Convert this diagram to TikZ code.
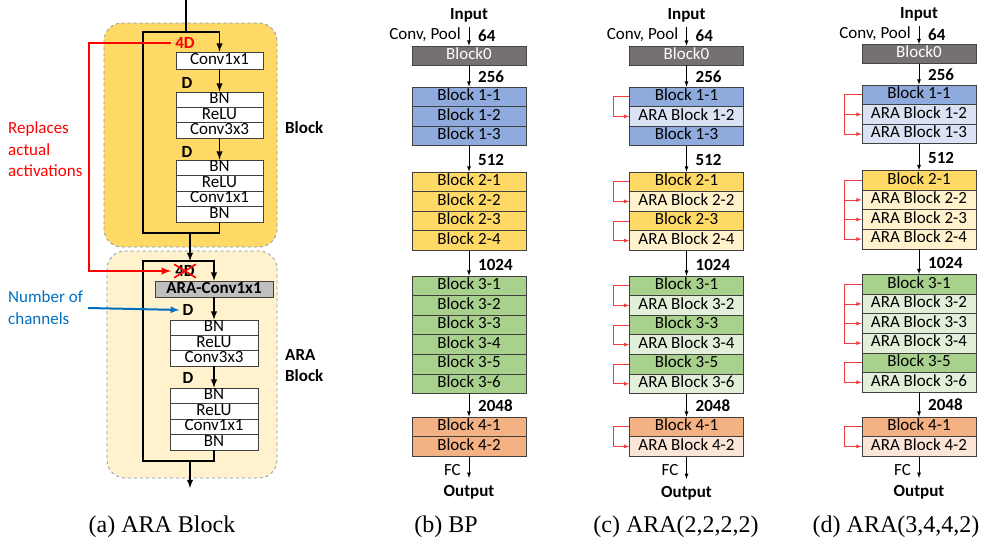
\documentclass[tikz,border=0pt]{standalone}
\usepackage{fontspec}
\setmainfont{Carlito}
\newfontfamily\capfont{Liberation Serif}
\definecolor{gray0}{HTML}{767171}
\definecolor{blu}{HTML}{8FAADC}
\definecolor{lblu}{HTML}{DAE3F3}
\definecolor{yel}{HTML}{FFD966}
\definecolor{lyel}{HTML}{FFF2CC}
\definecolor{grn}{HTML}{A9D18E}
\definecolor{lgrn}{HTML}{E2F0D9}
\definecolor{org}{HTML}{F4B183}
\definecolor{lorg}{HTML}{FBE5D6}
\definecolor{boxline}{HTML}{404040}
\definecolor{dashline}{HTML}{8497B0}
\definecolor{arared}{HTML}{F03C3C}
\definecolor{chblue}{HTML}{0070C0}

\begin{document}
\begin{tikzpicture}[x=1pt,y=-1pt,>=latex,
	every node/.style={font=\fontsize{17}{21.5}\selectfont},
	row/.style={draw=boxline,line width=0.7pt,minimum width=114pt,minimum height=19.6pt,inner sep=0pt,text height=11pt,text depth=3.5pt},
	lay/.style={draw=boxline,fill=white,line width=0.7pt,minimum width=87pt,minimum height=15.5pt,inner sep=0pt,text height=11pt,text depth=3pt},
	num/.style={font=\fontsize{17}{21.5}\selectfont\bfseries,inner sep=1pt,anchor=west},
	main/.style={line width=1.8pt},
	flow/.style={->,line width=0.8pt},
	araline/.style={->,draw=arared,line width=0.8pt},
	bg/.style={draw=dashline,dashed,line width=0.8pt,rounded corners=18pt},
	captext/.style={font={\capfont\fontsize{24}{28}\selectfont}}]
\useasboundingbox (0,0) rectangle (990,538);

\draw[bg,fill=yel] (104,23) rectangle (277,247);
\draw[bg,fill=lyel] (107,251) rectangle (277,478);
\coordinate (ain) at (186,0);
\coordinate (s1) at (186,32);
\coordinate (s1l) at (143,32);
\coordinate (s1r) at (219.5,32);
\coordinate (j1) at (190,233);
\coordinate (j1l) at (143,233);
\coordinate (j1r) at (219.5,233);
\coordinate (s2) at (190,261);
\coordinate (s2l) at (143,261);
\coordinate (s2r) at (214,261);
\coordinate (j2) at (190,461);
\coordinate (j2l) at (143,461);
\coordinate (j2r) at (214,461);
\coordinate (aout) at (190,488);
\node[lay,minimum height=17pt] (a1) at (219.5,60.5) {Conv1x1};
\node[lay] (a2) at (219.5,99.7) {BN};
\node[lay] (a3) at (219.5,115) {ReLU};
\node[lay] (a4) at (219.5,130.3) {Conv3x3};
\node[lay] (a5) at (219.5,167.75) {BN};
\node[lay] (a6) at (219.5,183.25) {ReLU};
\node[lay] (a7) at (219.5,198.75) {Conv1x1};
\node[lay] (a8) at (219.5,214.25) {BN};
\node[lay,fill=gray!50,minimum width=118pt,minimum height=16pt,font=\fontsize{17}{21.5}\selectfont\bfseries] (r1) at (214,289) {ARA-Conv1x1};
\node[lay,minimum width=88pt] (r2) at (214,327.7) {BN};
\node[lay,minimum width=88pt] (r3) at (214,343) {ReLU};
\node[lay,minimum width=88pt] (r4) at (214,358.3) {Conv3x3};
\node[lay,minimum width=88pt] (r5) at (214,395.75) {BN};
\node[lay,minimum width=88pt] (r6) at (214,411.25) {ReLU};
\node[lay,minimum width=88pt] (r7) at (214,426.75) {Conv1x1};
\node[lay,minimum width=88pt] (r8) at (214,442.25) {BN};
\draw[main] (ain) -- (s1);
\draw[main,->] (a8) -- (j1r) -- (j1l) -- (s1l) -- (s1r) -- (a1);
\draw[main,->] (a1) -- (a2);
\draw[main,->] (a4) -- (a5);
\draw[main,->] (j1) -- (s2);
\draw[main,->] (r8) -- (j2r) -- (j2l) -- (s2l) -- (s2r) -- (r1);
\draw[main,->] (r1) -- (r2);
\draw[main,->] (r4) -- (r5);
\draw[main,->] (j2) -- (aout);
\node[num,anchor=center] (da1) at (187,83) {D};
\node[num,anchor=center] (da2) at (187,152) {D};
\node[num,anchor=center] (db1) at (188,310) {D};
\node[num,anchor=center] (db2) at (188,378) {D};
\node[num,anchor=center,text=red] (fourd) at (185,43) {4D};
\node[num,anchor=center] (fourdx) at (185,271) {4D};
\draw[red,line width=1.6pt] (fourdx.north west) -- (fourdx.south east);
\draw[red,line width=1.6pt] (fourdx.south west) -- (fourdx.north east);
\coordinate (rtop) at (89,43);
\coordinate (rbot) at (89,271);
\draw[red,line width=2.2pt,->,shorten <=3pt,shorten >=3pt] (fourd.west) -- (rtop) -- (rbot) -- (fourdx.west);
\node[anchor=west,align=left,text=red,inner sep=0pt] (repl) at (8,149.5) {Replaces\\actual\\activations};
\node[anchor=west,align=left,text=chblue,inner sep=0pt] (nch) at (8,307.5) {Number of\\channels};
\coordinate (bstart) at (88,308);
\draw[chblue,line width=2pt,->,shorten >=2pt] (bstart) -- (db1.west);
\node[num] (lblock) at (284,128) {Block};
\node[num,align=left] (lara) at (284,365.5) {ARA\\Block};

\node[num,anchor=center] (bin) at (469,15) {Input};
\node[num,anchor=east,font=\fontsize{17}{21.5}\selectfont] (bconv) at (462,35) {Conv, Pool};
\node[num] (b64) at (477,36) {64};
\node[row,fill=gray0,text=white,draw=gray0!60!black,minimum height=19pt] (b0) at (469,55.5) {Block0};
\node[row,fill=blu] (b11) at (469,96.8) {Block 1-1};
\node[row,fill=blu] (b12) at (469,116.4) {Block 1-2};
\node[row,fill=blu] (b13) at (469,136) {Block 1-3};
\node[row,fill=yel] (b21) at (469,181.8) {Block 2-1};
\node[row,fill=yel] (b22) at (469,201.4) {Block 2-2};
\node[row,fill=yel] (b23) at (469,221) {Block 2-3};
\node[row,fill=yel] (b24) at (469,240.6) {Block 2-4};
\node[row,fill=grn] (b31) at (469,285.8) {Block 3-1};
\node[row,fill=grn] (b32) at (469,305.4) {Block 3-2};
\node[row,fill=grn] (b33) at (469,325) {Block 3-3};
\node[row,fill=grn] (b34) at (469,344.6) {Block 3-4};
\node[row,fill=grn] (b35) at (469,364.2) {Block 3-5};
\node[row,fill=grn] (b36) at (469,383.8) {Block 3-6};
\node[row,fill=org] (b41) at (469,426.8) {Block 4-1};
\node[row,fill=org] (b42) at (469,446.4) {Block 4-2};
\node[num] (b256) at (477,77) {256};
\node[num] (b512) at (477,160) {512};
\node[num] (b1024) at (477,265) {1024};
\node[num] (b2048) at (477,406) {2048};
\node[num,anchor=east,font=\fontsize{17}{21.5}\selectfont] (bfc) at (462,470) {FC};
\node[num,anchor=center] (bout) at (469,492) {Output};
\draw[flow,shorten <=4pt] (bin) -- (b0);
\draw[flow] (b0) -- (b11);
\draw[flow] (b13) -- (b21);
\draw[flow] (b24) -- (b31);
\draw[flow] (b36) -- (b41);
\draw[flow,shorten >=6pt] (b42) -- (bout);

\node[num,anchor=center] (cin) at (686.5,15) {Input};
\node[num,anchor=east,font=\fontsize{17}{21.5}\selectfont] (cconv) at (679.5,35) {Conv, Pool};
\node[num] (c64) at (694.5,36) {64};
\node[row,fill=gray0,text=white,draw=gray0!60!black,minimum height=19pt] (c0) at (686.5,55.5) {Block0};
\node[row,fill=blu] (c11) at (686.5,96.8) {Block 1-1};
\node[row,fill=lblu] (c12) at (686.5,116.4) {ARA Block 1-2};
\node[row,fill=blu] (c13) at (686.5,136) {Block 1-3};
\node[row,fill=yel] (c21) at (686.5,181.8) {Block 2-1};
\node[row,fill=lyel] (c22) at (686.5,201.4) {ARA Block 2-2};
\node[row,fill=yel] (c23) at (686.5,221) {Block 2-3};
\node[row,fill=lyel] (c24) at (686.5,240.6) {ARA Block 2-4};
\node[row,fill=grn] (c31) at (686.5,285.8) {Block 3-1};
\node[row,fill=lgrn] (c32) at (686.5,305.4) {ARA Block 3-2};
\node[row,fill=grn] (c33) at (686.5,325) {Block 3-3};
\node[row,fill=lgrn] (c34) at (686.5,344.6) {ARA Block 3-4};
\node[row,fill=grn] (c35) at (686.5,364.2) {Block 3-5};
\node[row,fill=lgrn] (c36) at (686.5,383.8) {ARA Block 3-6};
\node[row,fill=org] (c41) at (686.5,426.8) {Block 4-1};
\node[row,fill=lorg] (c42) at (686.5,446.4) {ARA Block 4-2};
\node[num] (c256) at (694.5,77) {256};
\node[num] (c512) at (694.5,160) {512};
\node[num] (c1024) at (694.5,265) {1024};
\node[num] (c2048) at (694.5,406) {2048};
\node[num,anchor=east,font=\fontsize{17}{21.5}\selectfont] (cfc) at (679.5,470) {FC};
\node[num,anchor=center] (cout) at (686.5,493) {Output};
\draw[flow,shorten <=4pt] (cin) -- (c0);
\draw[flow] (c0) -- (c11);
\draw[flow] (c13) -- (c21);
\draw[flow] (c24) -- (c31);
\draw[flow] (c36) -- (c41);
\draw[flow,shorten >=6pt] (c42) -- (cout);
\draw[araline] (c11.west) -- ++(-16,0) |- (c12.west);
\draw[araline] (c21.west) -- ++(-16,0) |- (c22.west);
\draw[araline] (c23.west) -- ++(-16,0) |- (c24.west);
\draw[araline] (c31.west) -- ++(-16,0) |- (c32.west);
\draw[araline] (c33.west) -- ++(-16,0) |- (c34.west);
\draw[araline] (c35.west) -- ++(-16,0) |- (c36.west);
\draw[araline] (c41.west) -- ++(-16,0) |- (c42.west);

\node[num,anchor=center] (din) at (919,14) {Input};
\node[num,anchor=east,font=\fontsize{17}{21.5}\selectfont] (dconv) at (912,34) {Conv, Pool};
\node[num] (d64) at (927,35) {64};
\node[row,fill=gray0,text=white,draw=gray0!60!black,minimum height=19pt] (d0) at (919,54) {Block0};
\node[row,fill=blu] (d11) at (919,94.8) {Block 1-1};
\node[row,fill=lblu] (d12) at (919,114.4) {ARA Block 1-2};
\node[row,fill=lblu] (d13) at (919,134) {ARA Block 1-3};
\node[row,fill=yel] (d21) at (919,180.3) {Block 2-1};
\node[row,fill=lyel] (d22) at (919,199.9) {ARA Block 2-2};
\node[row,fill=lyel] (d23) at (919,219.5) {ARA Block 2-3};
\node[row,fill=lyel] (d24) at (919,239.1) {ARA Block 2-4};
\node[row,fill=grn] (d31) at (919,284.3) {Block 3-1};
\node[row,fill=lgrn] (d32) at (919,303.9) {ARA Block 3-2};
\node[row,fill=lgrn] (d33) at (919,323.5) {ARA Block 3-3};
\node[row,fill=lgrn] (d34) at (919,343.1) {ARA Block 3-4};
\node[row,fill=grn] (d35) at (919,362.7) {Block 3-5};
\node[row,fill=lgrn] (d36) at (919,382.3) {ARA Block 3-6};
\node[row,fill=org] (d41) at (919,426.8) {Block 4-1};
\node[row,fill=lorg] (d42) at (919,446.4) {ARA Block 4-2};
\node[num] (d256) at (927,75) {256};
\node[num] (d512) at (927,158) {512};
\node[num] (d1024) at (927,263) {1024};
\node[num] (d2048) at (927,405) {2048};
\node[num,anchor=east,font=\fontsize{17}{21.5}\selectfont] (dfc) at (912,470) {FC};
\node[num,anchor=center] (dout) at (919,492) {Output};
\draw[flow,shorten <=4pt] (din) -- (d0);
\draw[flow] (d0) -- (d11);
\draw[flow] (d13) -- (d21);
\draw[flow] (d24) -- (d31);
\draw[flow] (d36) -- (d41);
\draw[flow,shorten >=6pt] (d42) -- (dout);
\draw[araline] (d11.west) -- ++(-17,0) |- (d12.west);
\draw[araline] (d11.west) -- ++(-17,0) |- (d13.west);
\draw[araline] (d21.west) -- ++(-17,0) |- (d22.west);
\draw[araline] (d21.west) -- ++(-17,0) |- (d23.west);
\draw[araline] (d21.west) -- ++(-17,0) |- (d24.west);
\draw[araline] (d31.west) -- ++(-17,0) |- (d32.west);
\draw[araline] (d31.west) -- ++(-17,0) |- (d33.west);
\draw[araline] (d31.west) -- ++(-17,0) |- (d34.west);
\draw[araline] (d35.west) -- ++(-17,0) |- (d36.west);
\draw[araline] (d41.west) -- ++(-17,0) |- (d42.west);

\node[captext] (capa) at (162,527) {(a) ARA Block};
\node[captext] (capb) at (446,527) {(b) BP};
\node[captext] (capc) at (676,527) {(c) ARA(2,2,2,2)};
\node[captext] (capd) at (896,527) {(d) ARA(3,4,4,2)};
\end{tikzpicture}
\end{document}
